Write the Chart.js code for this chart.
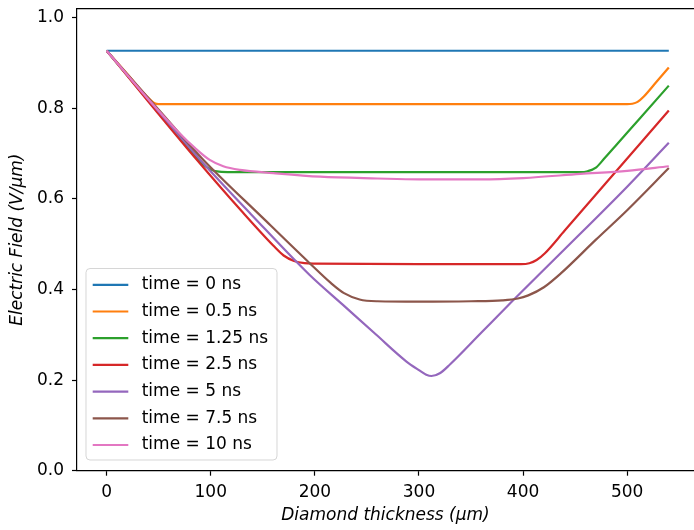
<!DOCTYPE html>
<html>
<head>
<meta charset="utf-8">
<script src="https://cdn.jsdelivr.net/npm/chart.js@4"></script>
<style>
  body { margin: 0; background: #fff; }
  canvas { display: block; }
</style>
</head>
<body>
<canvas id="fieldCanvas" width="694" height="530"></canvas>
<script>
// series labels and line colours (matplotlib tab10)
const seriesLabels = ['time = 0 ns', 'time = 0.5 ns', 'time = 1.25 ns', 'time = 2.5 ns',
                      'time = 5 ns', 'time = 7.5 ns', 'time = 10 ns'];
const seriesColors = ['#1f77b4', '#ff7f0e', '#2ca02c', '#d62728', '#9467bd', '#8c564b', '#e377c2'];

// diamond thickness (um) and electric field (V/um)
const xT0 = [0, 540];
const eT0 = [0.927, 0.927];

const xT05 = [0, 20, 40, 46, 50, 56, 300, 500, 505, 510, 516, 528, 540];
const eT05 = [0.927, 0.875, 0.823, 0.811, 0.809, 0.809, 0.809, 0.809, 0.810, 0.814, 0.826, 0.858, 0.890];

const xT125 = [0, 40, 80, 92, 100, 108, 120, 300, 455, 462, 470, 478, 490, 510, 540];
const eT125 = [0.927, 0.817, 0.707, 0.677, 0.665, 0.660, 0.659, 0.659, 0.659, 0.661, 0.669, 0.689, 0.720, 0.772, 0.850];

const xT25 = [0, 40, 86, 130, 160, 170, 180, 190, 200, 300, 398, 406, 413, 421, 440, 480, 540];
const eT25 = [0.927, 0.815, 0.688, 0.572, 0.497, 0.475, 0.463, 0.458, 0.457, 0.456, 0.456, 0.458, 0.465, 0.480, 0.530, 0.636, 0.795];

const xT5 = [0, 40, 90, 140, 195, 227, 259, 288, 300, 307, 312, 320, 330, 360, 390, 436, 500, 540];
const eT5 = [0.927, 0.820, 0.686, 0.563, 0.432, 0.366, 0.300, 0.241, 0.222, 0.212, 0.209, 0.215, 0.235, 0.305, 0.375, 0.480, 0.627, 0.724];

const xT75 = [0, 50, 93, 150, 195, 215, 228, 243, 260, 300, 350, 380, 395, 405, 420, 436, 470, 500, 540];
const eT75 = [0.927, 0.797, 0.686, 0.558, 0.458, 0.415, 0.392, 0.378, 0.374, 0.373, 0.374, 0.376, 0.380, 0.387, 0.405, 0.435, 0.510, 0.575, 0.668];

const xT10 = [0, 40, 70, 85, 99, 112, 128, 160, 205, 260, 300, 360, 400, 455, 500, 540];
const eT10 = [0.927, 0.820, 0.745, 0.712, 0.686, 0.672, 0.664, 0.657, 0.649, 0.645, 0.643, 0.643, 0.646, 0.655, 0.662, 0.672];

// axis ticks
const xTicks = [0, 100, 200, 300, 400, 500];
const yTicks = [0.0, 0.2, 0.4, 0.6, 0.8, 1.0];

const seriesX = [xT0, xT05, xT125, xT25, xT5, xT75, xT10];
const seriesE = [eT0, eT05, eT125, eT25, eT5, eT75, eT10];

const datasets = seriesLabels.map((label, i) => ({
    label: label,
    data: seriesX[i].map((x, j) => ({ x: x, y: seriesE[i][j] })),
    borderColor: seriesColors[i],
    backgroundColor: seriesColors[i],
    borderWidth: 2.2,
    pointRadius: 0,
    fill: false,
    cubicInterpolationMode: 'monotone',
    order: seriesLabels.length - i   // later series drawn on top, like matplotlib
}));

const FONT = 'DejaVu Sans';
Chart.defaults.font.family = FONT;
Chart.defaults.color = '#000';

// top spine + legend box inside the axes (lower left)
const framePlugin = {
    id: 'framePlugin',
    afterDraw(chart) {
        const ctx = chart.ctx;
        const area = chart.chartArea;
        ctx.save();
        ctx.strokeStyle = '#000';
        ctx.lineWidth = 1.2;
        ctx.beginPath();
        ctx.moveTo(area.left, area.top);
        ctx.lineTo(area.right, area.top);
        ctx.stroke();

        // legend
        const boxL = area.left + 9, boxR = area.left + 200;
        const boxB = area.bottom - 10.7, boxT = boxB - 191.5;
        const r = 4;
        ctx.beginPath();
        ctx.moveTo(boxL + r, boxT);
        ctx.arcTo(boxR, boxT, boxR, boxB, r);
        ctx.arcTo(boxR, boxB, boxL, boxB, r);
        ctx.arcTo(boxL, boxB, boxL, boxT, r);
        ctx.arcTo(boxL, boxT, boxR, boxT, r);
        ctx.closePath();
        ctx.fillStyle = 'rgba(255,255,255,0.8)';
        ctx.fill();
        ctx.strokeStyle = 'rgba(204,204,204,0.8)';
        ctx.lineWidth = 1;
        ctx.stroke();

        ctx.font = '17px "' + FONT + '"';
        ctx.textBaseline = 'middle';
        ctx.textAlign = 'left';
        chart.data.datasets.forEach((ds, i) => {
            const y = boxT + 16.3 + i * 26.7;
            ctx.strokeStyle = ds.borderColor;
            ctx.lineWidth = 2.2;
            ctx.beginPath();
            ctx.moveTo(boxL + 6.7, y);
            ctx.lineTo(boxL + 42.3, y);
            ctx.stroke();
            ctx.fillStyle = '#000';
            ctx.fillText(ds.label, boxL + 55.7, y);
        });
        ctx.restore();
    }
};

function stripPadding(scale) {
    scale.paddingTop = 0;
    scale.paddingBottom = 0;
    scale.paddingLeft = 0;
    scale.paddingRight = 0;
}

new Chart(document.getElementById('fieldCanvas').getContext('2d'), {
    type: 'line',
    data: { datasets },
    options: {
        responsive: false,
        devicePixelRatio: 1,
        animation: false,
        layout: { padding: { top: 8.6, right: 0, bottom: 0, left: 0 } },
        plugins: {
            legend: { display: false },
            tooltip: { enabled: false }
        },
        scales: {
            x: {
                type: 'linear',
                min: -28.5,
                max: 564.2,
                afterBuildTicks: (scale) => { scale.ticks = xTicks.map(v => ({ value: v })); },
                afterFit: (scale) => { scale.height = 59.3; stripPadding(scale); },
                ticks: {
                    font: { size: 17 },
                    color: '#000',
                    padding: 7,
                    maxRotation: 0,
                    callback: (v) => String(v)
                },
                grid: { drawOnChartArea: false, drawTicks: true, tickLength: 5, tickColor: '#000', tickWidth: 1.2 },
                border: { display: true, color: '#000', width: 1.2 },
                title: {
                    display: true,
                    text: 'Diamond thickness (μm)',
                    font: { size: 17, style: 'italic' },
                    color: '#000',
                    padding: { top: 0, bottom: 4 }
                }
            },
            y: {
                type: 'linear',
                min: 0,
                max: 1.02,
                afterBuildTicks: (scale) => { scale.ticks = yTicks.map(v => ({ value: v })); },
                afterFit: (scale) => { scale.width = 77; stripPadding(scale); },
                ticks: {
                    font: { size: 17 },
                    color: '#000',
                    padding: 8,
                    callback: (v) => Number(v).toFixed(1)
                },
                grid: { drawOnChartArea: false, drawTicks: true, tickLength: 5, tickColor: '#000', tickWidth: 1.2 },
                border: { display: true, color: '#000', width: 1.2 },
                title: {
                    display: true,
                    text: 'Electric Field (V/μm)',
                    font: { size: 17, style: 'italic' },
                    color: '#000',
                    padding: { top: 7, bottom: 0 }
                }
            }
        }
    },
    plugins: [framePlugin]
});
</script>
</body>
</html>
